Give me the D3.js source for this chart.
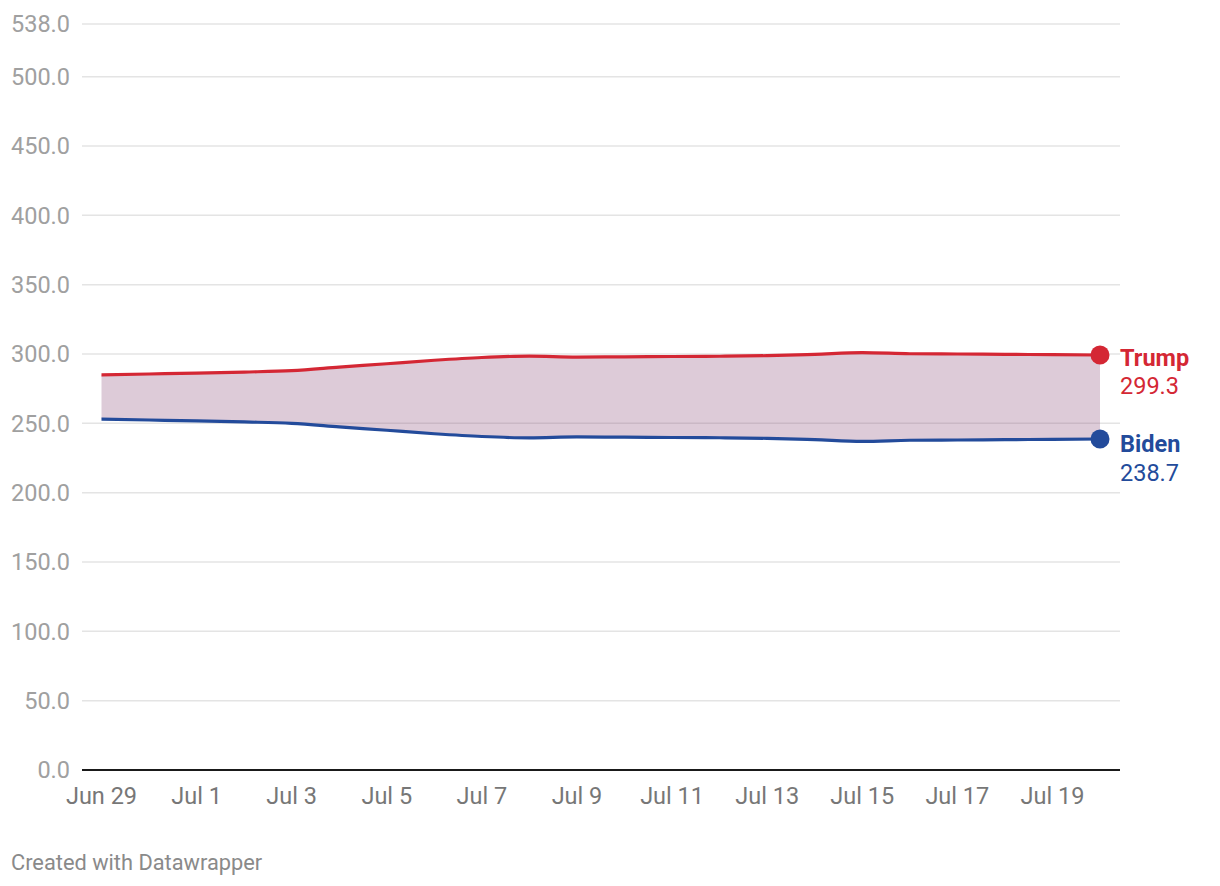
<!DOCTYPE html>
<html>
<head>
<meta charset="utf-8">
<script src="https://cdn.jsdelivr.net/npm/d3@7"></script>
<style>
  body { margin: 0; background: #fff; font-family: Roboto, "Noto Sans", sans-serif; }
</style>
</head>
<body>
<svg width="1220" height="886"></svg>
<script>
// values, one per day
var dates = ["2020-06-29","2020-06-30","2020-07-01","2020-07-02","2020-07-03","2020-07-04","2020-07-05",
  "2020-07-06","2020-07-07","2020-07-08","2020-07-09","2020-07-10","2020-07-11","2020-07-12",
  "2020-07-13","2020-07-14","2020-07-15","2020-07-16","2020-07-17","2020-07-18","2020-07-19","2020-07-20"];
var trump = [285.0, 285.6, 286.2, 287.0, 288.0, 290.5, 293.0, 295.5, 297.5, 298.5, 297.8, 298.0,
  298.2, 298.4, 298.8, 299.8, 301.0, 300.2, 300.0, 299.8, 299.5, 299.3];
var biden = [253.0, 252.4, 251.8, 251.0, 250.0, 247.5, 245.0, 242.5, 240.5, 239.5, 240.2, 240.0,
  239.8, 239.6, 239.2, 238.2, 237.0, 237.8, 238.0, 238.2, 238.5, 238.7];
var yTicks = [0, 50, 100, 150, 200, 250, 300, 350, 400, 450, 500, 538];
var xTicks = ["2020-06-29","2020-07-01","2020-07-03","2020-07-05","2020-07-07","2020-07-09",
  "2020-07-11","2020-07-13","2020-07-15","2020-07-17","2020-07-19"];

var svg = d3.select("svg");
var parse = d3.utcParse("%Y-%m-%d");
var data = dates.map(function(d, i) { return {date: parse(d), trump: trump[i], biden: biden[i]}; });

var x = d3.scaleUtc()
    .domain(d3.extent(data, function(d) { return d.date; }))
    .range([101.5, 1100]);
var y = d3.scaleLinear().domain([0, 538]).range([770, 24]);

// grid
var grid = svg.append("g");
grid.selectAll("line")
    .data(yTicks.filter(function(t) { return t > 0; }))
    .enter().append("line")
    .attr("x1", 82).attr("x2", 1120)
    .attr("y1", function(t) { return y(t); })
    .attr("y2", function(t) { return y(t); })
    .attr("stroke", "#e4e4e4")
    .attr("stroke-width", 1.5);

grid.selectAll("text")
    .data(yTicks)
    .enter().append("text")
    .attr("x", 70)
    .attr("y", function(t) { return y(t); })
    .attr("dy", "0.35em")
    .attr("text-anchor", "end")
    .attr("fill", "#a0a0a0")
    .style("font-size", "23.5px")
    .text(function(t) { return d3.format(".1f")(t); });

// area between
var area = d3.area()
    .curve(d3.curveMonotoneX)
    .x(function(d) { return x(d.date); })
    .y0(function(d) { return y(d.biden); })
    .y1(function(d) { return y(d.trump); });

svg.append("path")
    .datum(data)
    .attr("d", area)
    .attr("fill", "rgb(142,82,125)")
    .attr("fill-opacity", 0.3);

var series = [
  {key: "trump", name: "Trump", color: "#d42734", dy: 11},
  {key: "biden", name: "Biden", color: "#234b9b", dy: 13}
];

series.forEach(function(s) {
  var line = d3.line()
      .curve(d3.curveMonotoneX)
      .x(function(d) { return x(d.date); })
      .y(function(d) { return y(d[s.key]); });
  svg.append("path")
      .datum(data)
      .attr("d", line)
      .attr("fill", "none")
      .attr("stroke", s.color)
      .attr("stroke-width", 3.2);

  var last = data[data.length - 1];
  svg.append("circle")
      .attr("cx", x(last.date))
      .attr("cy", y(last[s.key]))
      .attr("r", 9.5)
      .attr("fill", s.color);

  var lbl = svg.append("text")
      .attr("x", 1120)
      .attr("y", y(last[s.key]) + s.dy)
      .attr("fill", s.color)
      .style("font-size", "23.5px");
  lbl.append("tspan").style("font-weight", "bold").text(s.name);
  lbl.append("tspan").attr("x", 1120).attr("dy", 28.5).text(d3.format(".1f")(last[s.key]));
});

// x axis
svg.append("line")
    .attr("x1", 82).attr("x2", 1120)
    .attr("y1", y(0)).attr("y2", y(0))
    .attr("stroke", "#1a1a1a")
    .attr("stroke-width", 2);

var fmt = d3.utcFormat("%b %-d");
svg.append("g").selectAll("text")
    .data(xTicks.map(parse))
    .enter().append("text")
    .attr("x", function(d) { return x(d); })
    .attr("y", 804)
    .attr("text-anchor", "middle")
    .attr("fill", "#777")
    .style("font-size", "23.5px")
    .text(fmt);

svg.append("text")
    .attr("x", 11)
    .attr("y", 870)
    .attr("fill", "#8a8a8a")
    .style("font-size", "21.8px")
    .text("Created with Datawrapper");
</script>
</body>
</html>
